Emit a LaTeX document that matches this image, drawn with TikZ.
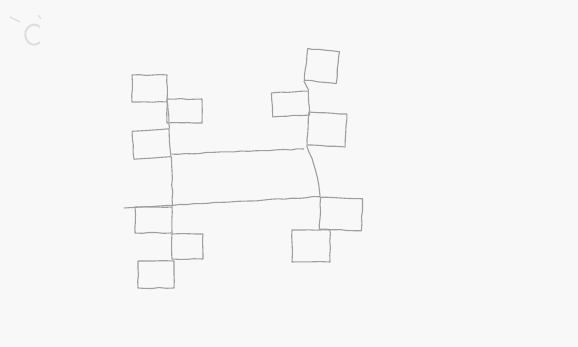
\documentclass[tikz,border=0pt]{standalone}
\usepackage{xcolor}
\usepackage{tikz}
\usetikzlibrary{positioning,decorations.pathmorphing}
\definecolor{paper}{RGB}{248,248,248}
\definecolor{pencil}{RGB}{158,158,158}
\definecolor{smudge}{RGB}{222,222,222}

\begin{document}
\begin{tikzpicture}[x=1pt, y=-1pt,
        sketch/.style={draw=pencil, line width=1.1pt, line join=round,
                   decorate, decoration={random steps, segment length=7pt, amplitude=0.5pt}},
        cell/.style={rectangle, sketch, inner sep=0pt},
        spine/.style={sketch}
    ]
        \fill[paper] (0,0) rectangle (578,347);
        \useasboundingbox (0,0) rectangle (578,347);

        % faint mark in the corner
        \draw[smudge, line width=2pt] (40,27) arc (50:310:9pt and 10pt);
        \draw[smudge, line width=1.2pt] (10,17) -- (20,22);
        \draw[smudge, line width=1.2pt] (38,15) -- (41,19);

        % left tower
        \node[cell, minimum width=35pt, minimum height=27pt] (l1) at (149.5,88.5) {};
        \node[cell, minimum width=35pt, minimum height=24pt] (l2) at (184.5,111) {};
        \node[cell, minimum width=37pt, minimum height=28pt, rotate=4] (l3) at (151.5,144) {};
        \node[cell, minimum width=37pt, minimum height=26pt] (l4) at (153.5,220) {};
        \node[cell, minimum width=31pt, minimum height=25pt] (l5) at (187.5,246.5) {};
        \node[cell, minimum width=36pt, minimum height=27pt] (l6) at (156,274.5) {};

        % right tower
        \node[cell, minimum width=32pt, minimum height=32pt, rotate=-6] (r1) at (322,66) {};
        \node[cell, minimum width=37pt, minimum height=24pt, rotate=3] (r2) at (290.5,104) {};
        \node[cell, minimum width=38pt, minimum height=33pt, rotate=-3] (r3) at (327,129.5) {};
        \node[cell, minimum width=42pt, minimum height=32pt, rotate=-2] (r4) at (341,214) {};
        \node[cell, minimum width=38pt, minimum height=32pt] (r5) at (311,246) {};

        \coordinate (upend) at (304,149);
        \coordinate (lowend) at (124,208);

        \draw[spine] (l1.south east) -- (l3.north east);
        \draw[spine] (l3.south east) -- (l4.north east);
        \draw[spine] (r1.south west) -- (r2.north east);
        \draw[spine] (r3.south west) to[bend left=8] (r4.north west);

        \draw[spine] (l3.south east) ++(0,-3) -- (upend);
        \draw[spine] (lowend) -- (r4.north west);
    \end{tikzpicture}
\end{document}
